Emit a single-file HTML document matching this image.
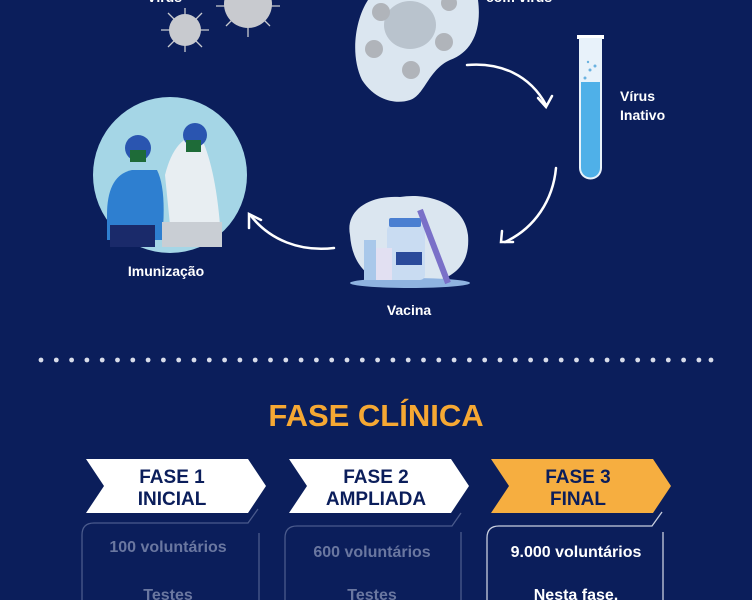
<!DOCTYPE html>
<html><head><meta charset="utf-8"><style>
html,body{margin:0;padding:0;background:#0b1e5b;width:752px;height:600px;overflow:hidden}
svg{display:block}
text{font-family:"Liberation Sans",sans-serif;font-weight:bold}
</style></head><body>
<svg width="752" height="600" viewBox="0 0 752 600" xmlns="http://www.w3.org/2000/svg">
<rect width="752" height="600" fill="#0b1e5b"/>
<text x="147" y="2" fill="#fff" font-size="14">Vírus</text>
<text x="486" y="2" fill="#fff" font-size="14">com vírus</text>
<!-- viruses -->
<g stroke="#c8cacf" stroke-width="1.3">
<path d="M185 8v10M185 42v10M161 30h10M199 30h10M168 13l6 6M202 13l-6 6M168 47l6-6M202 47l-6-6"/>
<path d="M248 28v9M216 6h9M271 6h9M226 26l6-6M270 26l-6-6"/>
</g>
<circle cx="185" cy="30" r="16" fill="#c8cacf"/>
<circle cx="248" cy="4" r="24" fill="#c8cacf"/>
<!-- cell -->
<path d="M368 0 C355 20 350 55 362 80 C375 100 395 105 410 100 C425 95 428 70 450 60 C472 52 482 30 478 0 Z" fill="#dbe6f0"/>
<ellipse cx="410" cy="25" rx="26" ry="24" fill="#b9c3cd"/>
<g fill="#b0b4ba"><circle cx="381" cy="12" r="9"/><circle cx="374" cy="49" r="9"/><circle cx="411" cy="70" r="9"/><circle cx="444" cy="42" r="9"/><circle cx="449" cy="3" r="8"/></g>
<!-- arrows -->
<g fill="none" stroke="#fff" stroke-width="2.5" stroke-linecap="round">
<path d="M467 65 C500 62 530 75 546 105"/><path d="M538 98 L546 107 L552 96"/>
<path d="M556 168 C553 200 535 228 505 242"/><path d="M502 231 L501 242 L513 242"/>
<path d="M334 248 C300 252 270 240 251 216"/><path d="M249 228 L249 214 L261 220"/>
</g>
<!-- test tube -->
<rect x="577" y="35" width="27" height="4" fill="#fff"/>
<path d="M579 38 V168 a11 11 0 0 0 23 0 V38 Z" fill="#e8f2fa"/>
<path d="M581 82 V168 a9 9 0 0 0 19 0 V82 Z" fill="#4fb0e8"/>
<g fill="#6ab2e0"><circle cx="585" cy="78" r="1.5"/><circle cx="590" cy="70" r="1.5"/><circle cx="595" cy="66" r="1.5"/><circle cx="588" cy="62" r="1.2"/></g>
<text x="620" y="101" fill="#fff" font-size="14">Vírus</text>
<text x="620" y="120" fill="#fff" font-size="14">Inativo</text>
<!-- immunization circle -->
<ellipse cx="170" cy="175" rx="77" ry="78" fill="#a5d6e6"/>
<path d="M107 215 q0-40 25-45 h25 q10 20 5 70 h-55z" fill="#2e7fd0"/>
<circle cx="138" cy="148" r="13" fill="#2a55b0"/>
<rect x="130" y="150" width="16" height="12" fill="#1e6b38"/>
<path d="M165 175 q10-40 35-40 q15 30 20 90 h-50z" fill="#e8eef2"/>
<circle cx="195" cy="135" r="12" fill="#2a55b0"/>
<rect x="186" y="140" width="15" height="12" fill="#1e6b38"/>
<rect x="162" y="222" width="60" height="25" fill="#c9ced4"/>
<path d="M110 225 h45 v22 h-45z" fill="#1a2a6a"/>
<text x="166" y="276" fill="#fff" font-size="14" text-anchor="middle">Imunização</text>
<!-- vaccine -->
<path d="M350 235 C345 210 370 195 400 197 C430 192 465 205 468 235 C470 260 460 283 410 285 C370 287 352 265 350 235Z" fill="#dbe6f0"/>
<ellipse cx="410" cy="283" rx="60" ry="5" fill="#8fb3e0"/>
<rect x="387" y="225" width="38" height="55" rx="5" fill="#c9dcf2"/>
<rect x="389" y="218" width="32" height="9" rx="2" fill="#4a7fd1"/>
<rect x="396" y="252" width="26" height="13" fill="#2a4a9a"/>
<rect x="370" y="248" width="22" height="32" fill="#e2e0f2"/>
<rect x="364" y="240" width="12" height="40" fill="#a9c8ea"/>
<path d="M420 210 L448 283" stroke="#7a70c8" stroke-width="6"/>
<text x="409" y="315" fill="#fff" font-size="14" text-anchor="middle">Vacina</text>
<!-- dots -->
<g fill="#d8dcea">
<circle cx="41" cy="360" r="2.4"/><circle cx="56.3" cy="360" r="2.4"/><circle cx="71.6" cy="360" r="2.4"/><circle cx="86.9" cy="360" r="2.4"/><circle cx="102.2" cy="360" r="2.4"/><circle cx="117.5" cy="360" r="2.4"/><circle cx="132.8" cy="360" r="2.4"/><circle cx="148.1" cy="360" r="2.4"/><circle cx="163.4" cy="360" r="2.4"/><circle cx="178.7" cy="360" r="2.4"/><circle cx="194" cy="360" r="2.4"/><circle cx="209.3" cy="360" r="2.4"/><circle cx="224.6" cy="360" r="2.4"/><circle cx="239.9" cy="360" r="2.4"/><circle cx="255.2" cy="360" r="2.4"/><circle cx="270.5" cy="360" r="2.4"/><circle cx="285.8" cy="360" r="2.4"/><circle cx="301.1" cy="360" r="2.4"/><circle cx="316.4" cy="360" r="2.4"/><circle cx="331.7" cy="360" r="2.4"/><circle cx="347" cy="360" r="2.4"/><circle cx="362.3" cy="360" r="2.4"/><circle cx="377.6" cy="360" r="2.4"/><circle cx="392.9" cy="360" r="2.4"/><circle cx="408.2" cy="360" r="2.4"/><circle cx="423.5" cy="360" r="2.4"/><circle cx="438.8" cy="360" r="2.4"/><circle cx="454.1" cy="360" r="2.4"/><circle cx="469.4" cy="360" r="2.4"/><circle cx="484.7" cy="360" r="2.4"/><circle cx="500" cy="360" r="2.4"/><circle cx="515.3" cy="360" r="2.4"/><circle cx="530.6" cy="360" r="2.4"/><circle cx="545.9" cy="360" r="2.4"/><circle cx="561.2" cy="360" r="2.4"/><circle cx="576.5" cy="360" r="2.4"/><circle cx="591.8" cy="360" r="2.4"/><circle cx="607.1" cy="360" r="2.4"/><circle cx="622.4" cy="360" r="2.4"/><circle cx="637.7" cy="360" r="2.4"/><circle cx="653" cy="360" r="2.4"/><circle cx="668.3" cy="360" r="2.4"/><circle cx="683.6" cy="360" r="2.4"/><circle cx="698.9" cy="360" r="2.4"/><circle cx="711" cy="360" r="2.4"/>
</g>
<!-- title -->
<text x="376" y="426" fill="#f6a833" font-size="31" text-anchor="middle">FASE CLÍNICA</text>
<!-- chevrons -->
<polygon points="86,459 248,459 266,486 248,513 86,513 104,486" fill="#fff"/>
<polygon points="289,459 451,459 469,486 451,513 289,513 307,486" fill="#fff"/>
<polygon points="491,459 653,459 671,486 653,513 491,513 509,486" fill="#f6ae40"/>
<g fill="#0b1e5b" font-size="19" text-anchor="middle">
<text x="172" y="483">FASE 1</text><text x="172" y="505">INICIAL</text>
<text x="376" y="483">FASE 2</text><text x="376" y="505">AMPLIADA</text>
<text x="578" y="483">FASE 3</text><text x="578" y="505">FINAL</text>
</g>
<!-- boxes -->
<g fill="none" stroke-width="1.3">
<path d="M82 600 V535 q0-12 12-12 H248 l10-14" stroke="#4a5a8c"/>
<path d="M259 533 V600" stroke="#4a5a8c"/>
<path d="M285 600 V538 q0-12 12-12 H452 l9-13" stroke="#4a5a8c"/>
<path d="M461 532 V600" stroke="#4a5a8c"/>
<path d="M487 600 V538 q0-12 12-12 H652 l10-14" stroke="#c8cede"/>
<path d="M663 532 V600" stroke="#c8cede"/>
</g>
<g font-size="16" text-anchor="middle">
<text x="168" y="552" fill="#6a77a0">100 voluntários</text>
<text x="168" y="600" fill="#6a77a0">Testes</text>
<text x="372" y="557" fill="#6a77a0">600 voluntários</text>
<text x="372" y="600" fill="#6a77a0">Testes</text>
<text x="576" y="557" fill="#fff">9.000 voluntários</text>
<text x="576" y="600" fill="#fff">Nesta fase,</text>
</g>
</svg>
</body></html>
